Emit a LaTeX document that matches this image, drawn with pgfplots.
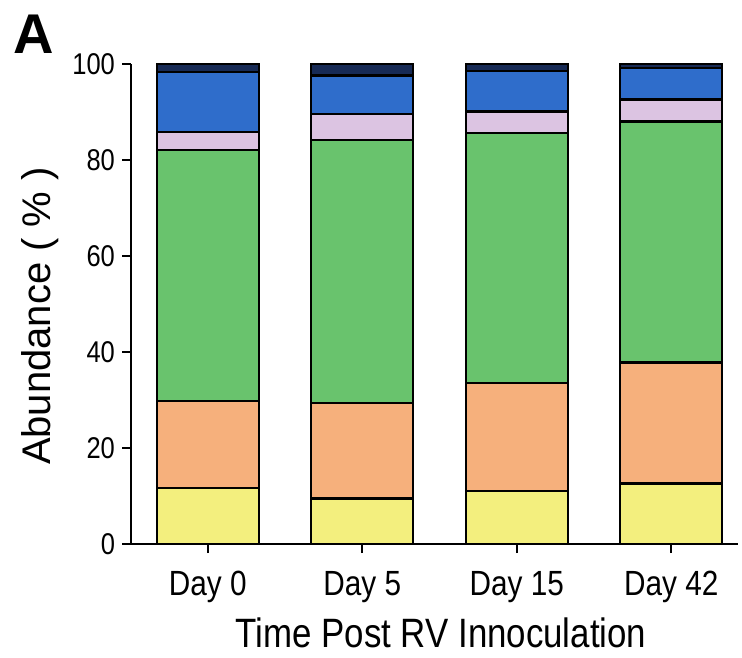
\documentclass[border=0pt]{standalone}
\usepackage{pgfplots}
\pgfplotsset{compat=1.18}
\usepackage{fontspec}
\setmainfont{Liberation Sans}
\newfontfamily\narrowsans{Liberation Sans}[FakeStretch=0.85]

\definecolor{cYellow}{HTML}{F3EF7E}
\definecolor{cOrange}{HTML}{F6B07C}
\definecolor{cGreen}{HTML}{69C36D}
\definecolor{cLavender}{HTML}{DCC4E2}
\definecolor{cBlue}{HTML}{2F6DCB}
\definecolor{cNavy}{HTML}{172A55}

\begin{document}
\begin{tikzpicture}
\useasboundingbox (-65.5pt,-56.5pt) rectangle (305.5pt,272pt);
\begin{axis}[
  scale only axis, width=303.5pt, height=240pt,
  xmin=-0.497, xmax=3.432, ymin=0, ymax=100,
  ybar stacked, bar width=51pt,
  axis x line*=bottom, axis y line*=left,
  axis line style={line width=1.25pt, black},
  xtick={0,1,2,3}, xticklabels={Day 0,Day 5,Day 15,Day 42},
  ytick={0,20,...,100},
  tick align=outside, major tick length=4.5pt,
  tick style={line width=1.1pt, black},
  xticklabel style={font=\narrowsans\fontsize{17.5}{20}\selectfont, yshift=-5.5pt},
  yticklabel style={font=\narrowsans\fontsize{15}{18}\selectfont},
  /pgf/number format/assume math mode=true,
  every axis plot/.append style={draw=black, line width=1.1pt},
  clip=false,
]
% stacked abundance segments, bottom to top
\addplot[fill=cYellow]   coordinates {(0,11.6) (1,9.5)  (2,11.0) (3,12.6)};
\addplot[fill=cOrange]   coordinates {(0,18.2) (1,19.9) (2,22.5) (3,25.2)};
\addplot[fill=cGreen]    coordinates {(0,52.2) (1,54.8) (2,52.2) (3,50.2)};
\addplot[fill=cLavender] coordinates {(0,3.8)  (1,5.4)  (2,4.4)  (3,4.6)};
\addplot[fill=cBlue]     coordinates {(0,12.5) (1,8.0)  (2,8.4)  (3,6.6)};
\addplot[fill=cNavy]     coordinates {(0,1.7)  (1,2.4)  (2,1.5)  (3,0.8)};

\path (rel axis cs:0,0.475) ++(-45.5pt,0pt)
  node[rotate=90, inner sep=0pt, font=\fontsize{20}{24}\selectfont] {Abundance ( \% )};
\path (rel axis cs:0,0) ++(155pt,-44.5pt)
  node[inner sep=0pt, font=\narrowsans\fontsize{20.5}{24}\selectfont] {Time Post RV Innoculation};
\path (rel axis cs:0,0) ++(-48.5pt,255pt)
  node[inner sep=0pt, font=\bfseries\fontsize{28}{32}\selectfont] {A};
\end{axis}
\end{tikzpicture}
\end{document}
